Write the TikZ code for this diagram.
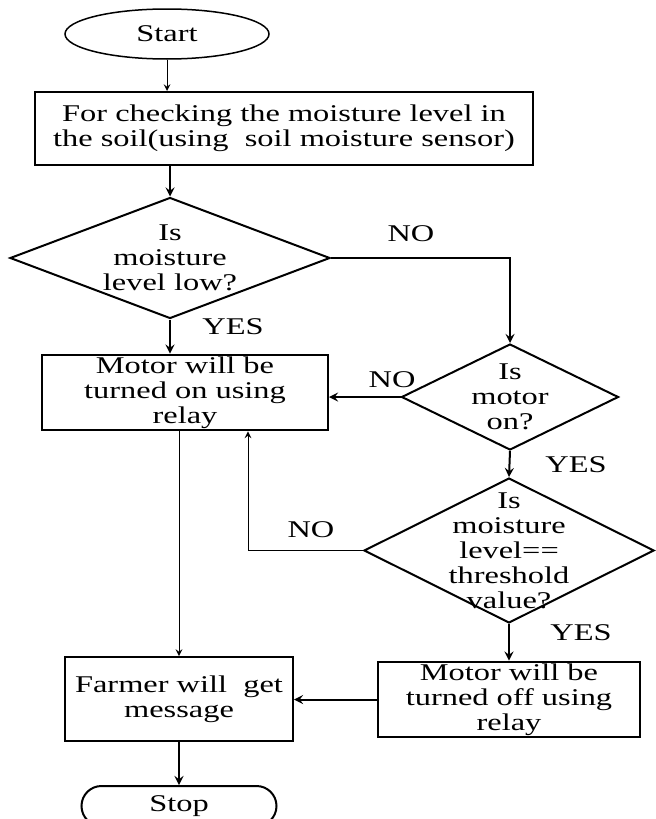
\documentclass[tikz,border=0pt]{standalone}
\usepackage{fontspec}
\setmainfont{Liberation Serif}[FakeStretch=1.35]
\usetikzlibrary{shapes.geometric}

\tikzset{
  terminal/.style={draw, ellipse, line width=0.75, minimum width=102pt, minimum height=25pt},
  stopbox/.style={draw, rectangle, rounded corners=10pt, line width=1, minimum width=97.5pt, minimum height=20pt},
  process/.style={draw, rectangle, line width=1, align=center, inner sep=1pt},
  decision/.style={draw, diamond, line width=1, inner sep=0pt},
  txt/.style={align=center, inner sep=0pt},
  lbl/.style={inner sep=0pt},
  flow/.style={->, >=stealth, line width=1},
  thinflow/.style={->, >=stealth, line width=0.5}
}

\begin{document}
\begin{tikzpicture}[x=0.5pt, y=-0.5pt, font=\fontsize{12}{12.5}\selectfont]
  \useasboundingbox (0, 0) rectangle (656, 819);

  \node[terminal] (start) at (167, 34) {Start};
  \node[process, minimum width=249pt, minimum height=36.5pt] (check) at (284, 128.5)
    {For checking the moisture level in\\the soil(using~ soil moisture sensor)};

  \node[decision, minimum width=160pt, minimum height=60.5pt] (isLow) at (170, 258) {};
  \node[txt] (isLowTxt) at (isLow) {Is\\moisture\\level low?};

  \node[process, minimum width=143pt, minimum height=36.5pt] (motorOn) at (185, 392.5)
    {Motor will be\\turned on using\\relay};

  \node[decision, minimum width=108.5pt, minimum height=53pt] (isMotor) at (510, 397) {};
  \node[txt] (isMotorTxt) at (isMotor) {Is\\motor\\on?};

  \node[decision, minimum width=145pt, minimum height=72.5pt] (isEqual) at (509, 550.5) {};
  \node[txt] (isEqualTxt) at (isEqual) {Is\\moisture\\level==\\threshold\\value?};

  \node[process, minimum width=131pt, minimum height=37.5pt] (motorOff) at (509, 699.5)
    {Motor will be\\turned off using\\relay};
  \node[process, minimum width=114pt, minimum height=42pt] (farmer) at (179, 699)
    {Farmer will~ get\\message};
  \node[stopbox] (stop) at (179, 806) {Stop};

  % yes / no labels
  \node[lbl] (noLow) at (411, 234) {NO};
  \node[lbl] (yesLow) at (233, 327) {YES};
  \node[lbl] (noMotor) at (392, 380) {NO};
  \node[lbl] (yesMotor) at (576, 465) {YES};
  \node[lbl] (noEqual) at (311, 530) {NO};
  \node[lbl] (yesEqual) at (581, 633) {YES};

  % connectors
  \draw[thinflow] (start.south) -- (start.south |- check.north);
  \draw[flow] (isLow.north |- check.south) -- (isLow.north);
  \draw[flow] (isLow.south) -- (isLow.south |- motorOn.north);
  \draw[flow] (isLow.east) -| (isMotor.north);
  \draw[flow] (isMotor.west) -- (isMotor.west -| motorOn.east);
  \draw[flow] (isMotor.south) -- (isEqual.north);
  \coordinate (back) at (248, 550.5);
  \draw[thinflow] (isEqual.west) -- (back) -- (back |- motorOn.south);
  \draw[thinflow] (farmer.north |- motorOn.south) -- (farmer.north);
  \draw[flow] (isEqual.south) -- (motorOff.north);
  \draw[flow] (motorOff.west) -- (motorOff.west -| farmer.east);
  \draw[flow] (farmer.south) -- (stop.north);
\end{tikzpicture}
\end{document}
